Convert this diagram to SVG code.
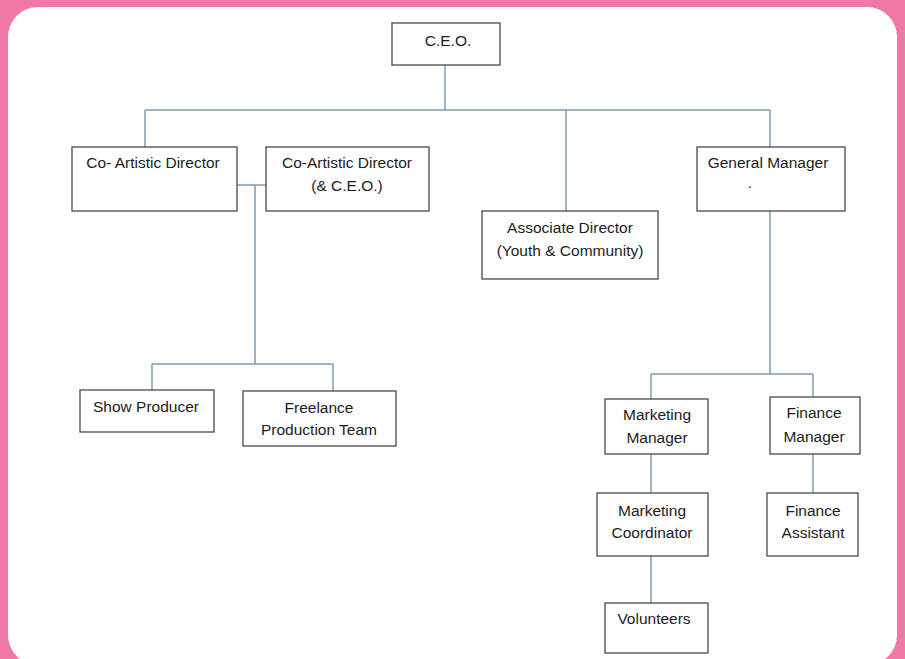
<svg xmlns="http://www.w3.org/2000/svg" width="905" height="659" viewBox="0 0 905 659">
<style>
.box{fill:#fff;stroke:#4a4a4a;stroke-width:1.3}
.lbl{font-family:"Liberation Sans",Arial,sans-serif;font-size:15.5px;fill:#1c1c1c;text-anchor:middle}
.con{fill:none;stroke:#7c9db0;stroke-width:1.5}
</style>
<rect x="0" y="0" width="905" height="659" fill="#ef78a7"/>
<rect x="8" y="7" width="889" height="658" rx="30" ry="30" fill="#fff"/>
<g id="connectors" class="con">
<path d="M445 65V110"/>
<path d="M145 110H770"/>
<path d="M145 110V147"/>
<path d="M566 110V211"/>
<path d="M770 110V147"/>
<path d="M237 185H266"/>
<path d="M255 185V364"/>
<path d="M152 364H333"/>
<path d="M152 364V390"/>
<path d="M333 364V391"/>
<path d="M770 211V374"/>
<path d="M651 374H813"/>
<path d="M651 374V399"/>
<path d="M813 374V397"/>
<path d="M651 454V493"/>
<path d="M813 454V493"/>
<path d="M651 556V603"/>
</g>
<g id="ceo"><rect class="box" x="392" y="23" width="108" height="42"/><text class="lbl" x="448" y="46">C.E.O.</text></g>
<g id="co-artistic-director"><rect class="box" x="72" y="147" width="165" height="64"/><text class="lbl" x="153" y="168">Co- Artistic Director</text></g>
<g id="co-artistic-director-ceo"><rect class="box" x="266" y="147" width="163" height="64"/><text class="lbl" x="347" y="168">Co-Artistic Director</text><text class="lbl" x="347" y="191">(&amp; C.E.O.)</text></g>
<g id="associate-director"><rect class="box" x="482" y="211" width="176" height="68"/><text class="lbl" x="570" y="233">Associate Director</text><text class="lbl" x="570" y="256">(Youth &amp; Community)</text></g>
<g id="general-manager"><rect class="box" x="697" y="147" width="148" height="64"/><text class="lbl" x="768" y="168">General Manager</text><text class="lbl" x="750" y="188">.</text></g>
<g id="show-producer"><rect class="box" x="80" y="390" width="134" height="42"/><text class="lbl" x="146" y="412">Show Producer</text></g>
<g id="freelance-production-team"><rect class="box" x="243" y="391" width="153" height="55"/><text class="lbl" x="319" y="413">Freelance</text><text class="lbl" x="319" y="435">Production Team</text></g>
<g id="marketing-manager"><rect class="box" x="605" y="399" width="103" height="55"/><text class="lbl" x="657" y="420">Marketing</text><text class="lbl" x="657" y="443">Manager</text></g>
<g id="finance-manager"><rect class="box" x="770" y="397" width="90" height="57"/><text class="lbl" x="814" y="418">Finance</text><text class="lbl" x="814" y="442">Manager</text></g>
<g id="marketing-coordinator"><rect class="box" x="597" y="493" width="111" height="63"/><text class="lbl" x="652" y="516">Marketing</text><text class="lbl" x="652" y="538">Coordinator</text></g>
<g id="finance-assistant"><rect class="box" x="767" y="493" width="91" height="63"/><text class="lbl" x="813" y="516">Finance</text><text class="lbl" x="813" y="538">Assistant</text></g>
<g id="volunteers"><rect class="box" x="605" y="603" width="103" height="50"/><text class="lbl" x="654" y="624">Volunteers</text></g>
</svg>
